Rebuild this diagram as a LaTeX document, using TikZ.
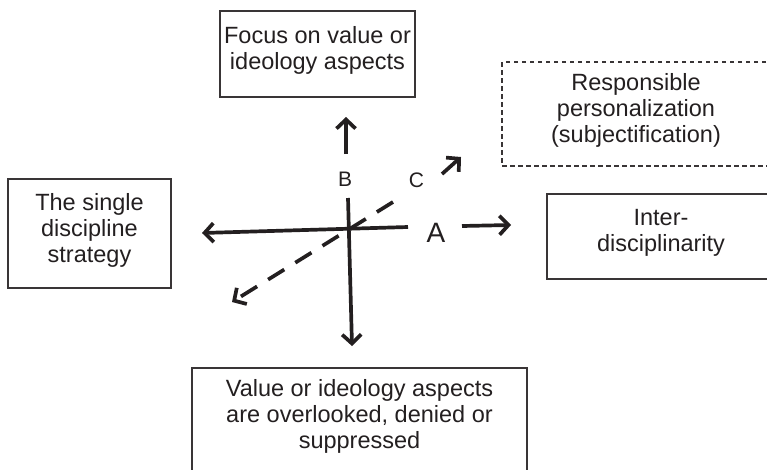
\documentclass[tikz,border=0pt]{standalone}
\usepackage{fontspec}
\setmainfont{Liberation Sans}
\usetikzlibrary{arrows.meta}
\definecolor{ink}{HTML}{231F20}
\newcommand{\lowdepth}{\rule[-12pt]{0pt}{1pt}}
\begin{document}
\begin{tikzpicture}[x=1pt,y=-1pt,
  box/.style={draw=ink!90, line width=1.5pt, rectangle, align=center, text=ink,
    font=\fontsize{23.5}{26}\selectfont, inner sep=0pt},
  dbox/.style={box, dash pattern=on 4.5pt off 3.5pt, line width=1.2pt},
  axis/.style={draw=ink, line width=3.7pt, -{Straight Barb[length=9pt,width=19pt]}},
  daxis/.style={axis, dash pattern=on 19pt off 13pt},
  lab/.style={text=ink, inner sep=0pt}]
\path[use as bounding box] (0,0) rectangle (767,469);
\clip (0,0) rectangle (767,469);
% boxes
\node[box, minimum width=195pt, minimum height=86pt] (top) at (317.5,54) {Focus on value or\\ideology aspects\lowdepth};
\node[dbox, minimum width=268pt, minimum height=104pt] (resp) at (636,114) {Responsible\\personalization\\(subjectification)\lowdepth};
\node[box, minimum width=163pt, minimum height=109pt] (left) at (89.5,233.5) {The single\\discipline\\strategy\lowdepth};
\node[box, minimum width=228pt, minimum height=85pt] (right) at (661,236.5) {Inter-\\disciplinarity\lowdepth};
\node[box, minimum width=335pt, minimum height=104pt] (bottom) at (359.5,420) {Value or ideology aspects\\are overlooked, denied or\\suppressed\lowdepth};
% connector ends
\coordinate (hR) at (408,227);
\coordinate (hL) at (202,233);
\coordinate (aS) at (462,226);
\coordinate (aE) at (511,225);
\coordinate (vT) at (348,198);
\coordinate (vB) at (352,346);
\coordinate (bS) at (346,154);
\coordinate (bE) at (346,117);
\coordinate (cS) at (393,202);
\coordinate (cE) at (232,302);
\coordinate (dS) at (442,174);
\coordinate (dE) at (461,157);
% axes
\draw[axis] (hR) -- (hL);
\draw[axis] (aS) -- (aE);
\draw[axis] (vT) -- (vB);
\draw[axis] (bS) -- (bE);
\draw[daxis] (cS) -- (cE);
\draw[axis] (dS) -- (dE);
% labels
\node[lab, font=\fontsize{28}{30}\selectfont] (A) at (436,233) {A};
\node[lab, font=\fontsize{21}{23}\selectfont] (B) at (345,179) {B};
\node[lab, font=\fontsize{21}{23}\selectfont] (C) at (416.5,180.5) {C};
\end{tikzpicture}
\end{document}
